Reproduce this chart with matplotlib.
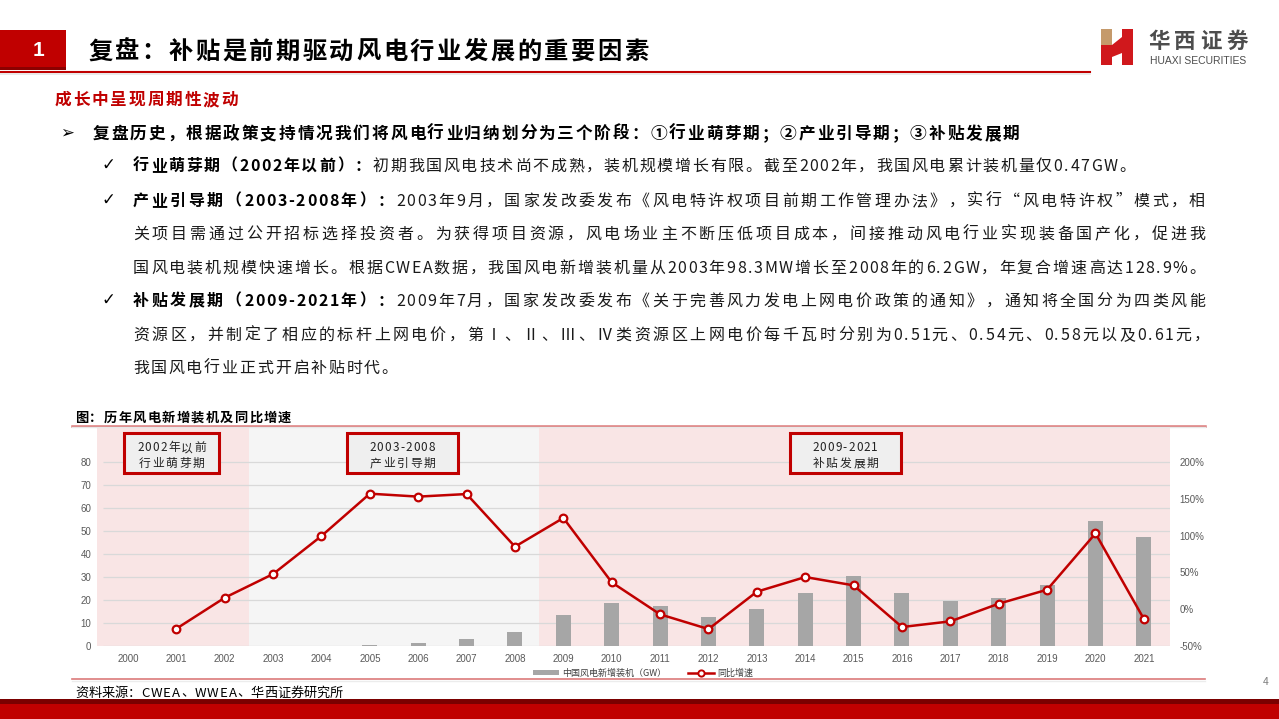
import matplotlib
matplotlib.use('Agg')
import matplotlib.pyplot as plt
from matplotlib.patches import Rectangle, Polygon, Patch
from matplotlib.lines import Line2D

plt.rcParams['font.family'] = ['Noto Sans CJK SC', 'DejaVu Sans']

W, H = 1279, 719
RED = '#c00000'

# data
years = ['2000', '2001', '2002', '2003', '2004', '2005', '2006', '2007', '2008', '2009', '2010',
         '2011', '2012', '2013', '2014', '2015', '2016', '2017', '2018', '2019', '2020', '2021']
new_gw = [0.08, 0.04, 0.07, 0.1, 0.2, 0.5, 1.2, 3.2, 6.1, 13.6, 18.8, 17.5, 12.8, 16.0, 23.0,
          30.6, 23.2, 19.5, 21.0, 26.7, 54.4, 47.5]
yoy = [None, -26.5, 15.6, 47.8, 99.5, 157.0, 153.0, 156.5, 85.0, 124.0, 36.5, -7.0, -27.0,
       23.8, 43.7, 32.4, -24.2, -16.5, 7.5, 26.5, 103.0, -13.3]
yticks_l = [0, 10, 20, 30, 40, 50, 60, 70, 80]
yticks_r = [-50, 0, 50, 100, 150, 200]

fig = plt.figure(figsize=(W / 100, H / 100), dpi=100)
renderer = fig.canvas.get_renderer()


def fy(y):
    return 1 - y / H


def rect(x0, y0, x1, y1, **kw):
    fig.add_artist(Rectangle((x0 / W, fy(y1)), (x1 - x0) / W, (y1 - y0) / H,
                             transform=fig.transFigure, **kw))


def hline(x0, x1, y, **kw):
    fig.add_artist(Line2D([x0 / W, x1 / W], [fy(y), fy(y)], transform=fig.transFigure, **kw))


def put(x, y, parts, size, gap=0.0, right=None, center=None, family=None):
    # draw text char by char so spacing / justification can follow the slide
    em = size * 100 / 72
    base = fy(y + 0.36 * em)
    items = []
    for s, weight, color in parts:
        for ch in s:
            t = fig.text(0, base, ch, fontsize=size, fontweight=weight, color=color, va='baseline')
            if family:
                t.set_fontfamily(family)
            if ord(ch) >= 0x2000:
                w, k = em, 1.0
                if ch in '（《“':
                    t.set_ha('right')
                elif ch in '，。、：；）》”':
                    t.set_ha('left')
                else:
                    t.set_ha('center')
            else:
                w, k = max(t.get_window_extent(renderer).width, 0.3 * em) + 0.08 * em, 0.15
            items.append((t, w, k))
    ws = sum(w for _, w, _ in items)
    ks = sum(k for _, _, k in items[:-1])
    if right is not None:
        gap = (right - x - ws) / ks
    if center is not None:
        x = center - (ws + gap * ks) / 2
    for t, w, k in items:
        off = {'left': 0, 'center': w / 2, 'right': w}[t.get_ha()]
        t.set_x((x + off) / W)
        x += w + gap * k


# header
rect(0, 30, 66, 70, color=RED, lw=0)
rect(0, 67, 66, 70, color='#8b0000', lw=0)
fig.text(38 / W, fy(50), '1', color='white', fontsize=15, fontweight='bold',
         ha='center', va='center', family='Liberation Sans')
hline(0, 1090, 72, color=RED, lw=1.5)
hline(0, 1090, 74, color='#e6e6e6', lw=1.2)
put(88, 50, [('复盘：补贴是前期驱动风电行业发展的重要因素', 'bold', 'black')], 17.5, gap=2.5)

# logo
rect(1101, 29, 1112, 45, color='#c59a6b', lw=0)
fig.add_artist(Polygon([(x / W, fy(y)) for x, y in
                        [(1101, 45), (1112, 45), (1122, 37), (1122, 29), (1133, 29), (1133, 65),
                         (1122, 65), (1122, 53), (1112, 57), (1112, 65), (1101, 65)]],
                       closed=True, transform=fig.transFigure, color='#d0181c', lw=0))
put(1148, 40, [('华西证券', 'bold', '#4d4d4d')], 15.5, gap=4.5)
fig.text(1150 / W, fy(61), 'HUAXI SECURITIES', fontsize=7.5, color='#4d4d4d',
         va='center', family='Liberation Sans')

# body text
put(55, 99, [('成长中呈现周期性波动', 'bold', RED)], 12, gap=1.8)
fig.text(67 / W, fy(133), '➢', fontsize=12, ha='center', va='center', family='DejaVu Sans')
put(93, 133, [('复盘历史，根据政策支持情况我们将风电行业归纳划分为三个阶段：①行业萌芽期；②产业引导期；③补贴发展期',
               'bold', 'black')], 12, gap=1.9)

TXT = '#1a1a1a'
for yy in (165, 200, 300):
    fig.text(108 / W, fy(yy), '✓', fontsize=12, ha='center', va='center', family='DejaVu Sans')
put(133, 165, [('行业萌芽期（2002年以前）：', 'bold', 'black'),
               ('初期我国风电技术尚不成熟，装机规模增长有限。截至2002年，我国风电累计装机量仅0.47GW。', 'normal', TXT)],
    11.5, gap=1.8)
put(133, 200, [('产业引导期（2003-2008年）：', 'bold', 'black'),
               ('2003年9月，国家发改委发布《风电特许权项目前期工作管理办法》，实行“风电特许权”模式，相', 'normal', TXT)],
    11.5, right=1205)
put(133, 233, [('关项目需通过公开招标选择投资者。为获得项目资源，风电场业主不断压低项目成本，间接推动风电行业实现装备国产化，促进我',
                'normal', TXT)], 11.5, right=1205)
put(133, 267, [('国风电装机规模快速增长。根据CWEA数据，我国风电新增装机量从2003年98.3MW增长至2008年的6.2GW，年复合增速高达128.9%。',
                'normal', TXT)], 11.5, right=1205)
put(133, 300, [('补贴发展期（2009-2021年）：', 'bold', 'black'),
               ('2009年7月，国家发改委发布《关于完善风力发电上网电价政策的通知》，通知将全国分为四类风能', 'normal', TXT)],
    11.5, right=1205)
put(133, 334, [('资源区，并制定了相应的标杆上网电价，第Ⅰ、Ⅱ、Ⅲ、Ⅳ类资源区上网电价每千瓦时分别为0.51元、0.54元、0.58元以及0.61元，',
                'normal', TXT)], 11.5, right=1210)
put(133, 367, [('我国风电行业正式开启补贴时代。', 'normal', TXT)], 11.5, gap=1.8)

# chart title
put(75, 417, [('图：历年风电新增装机及同比增速', 'bold', 'black')], 9.5, gap=1.3)

# chart
ax = fig.add_axes([97 / W, fy(646), (1170 - 97) / W, (646 - 428) / H])
xs = list(range(len(years)))
ax.set_xlim(-0.64, 21.54)
ax.set_ylim(0, 94.8)
ax.axvspan(-0.64, 2.5, color='#f9e5e5', lw=0, zorder=0)
ax.axvspan(2.5, 8.5, color='#f5f5f5', lw=0, zorder=0)
ax.axvspan(8.5, 21.54, color='#f9e5e5', lw=0, zorder=0)
ax.hlines(yticks_l, -0.52, 21.54, color='#d9d9d9', lw=0.9, zorder=1)
ax.bar(xs, new_gw, width=0.31, color='#a6a6a6', zorder=2)
ax.set_xticks(xs)
ax.set_xticklabels(years)
ax.set_yticks(yticks_l)
ax.tick_params(length=0, labelsize=7, labelcolor='#595959')
ax.tick_params(axis='x', pad=6)
ax.tick_params(axis='y', pad=4)
for s in ax.spines.values():
    s.set_visible(False)

ax2 = ax.twinx()
ax2.set_ylim(-50, -50 + 94.8 * 250 / 80)
ax2.set_yticks(yticks_r)
ax2.set_yticklabels([f'{v}%' for v in yticks_r])
ax2.tick_params(length=0, labelsize=7, labelcolor='#595959', pad=7)
for s in ax2.spines.values():
    s.set_visible(False)
ax2.plot(xs[1:], yoy[1:], color=RED, lw=1.8, marker='o', ms=5.5, mfc='white', mec=RED, mew=1.6,
         zorder=3)
for lbl in ax.get_xticklabels() + ax.get_yticklabels() + ax2.get_yticklabels():
    lbl.set_fontfamily('Liberation Sans')

# period boxes
for x0, x1, l1, l2 in [(124, 219, '2002年以前', '行业萌芽期'),
                       (347, 458, '2003-2008', '产业引导期'),
                       (790, 901, '2009-2021', '补贴发展期')]:
    rect(x0, 433, x1, 473, facecolor='#efefef', edgecolor=RED, lw=2.2)
    put(0, 447, [(l1, 'normal', '#222222')], 8.5, gap=1.2, center=(x0 + x1) / 2)
    put(0, 463, [(l2, 'normal', '#222222')], 8.5, gap=1.8, center=(x0 + x1) / 2)

hline(72, 1205, 425.5, color='#dc7a7a', lw=1.8)
hline(72, 1205, 427.5, color='#e8e8e8', lw=1)

# legend
handles = [Patch(facecolor='#a6a6a6', edgecolor='none'),
           Line2D([], [], color=RED, lw=1.8, marker='o', ms=4.5, mfc='white', mec=RED, mew=1.4)]
fig.legend(handles, ['中国风电新增装机（GW）', '同比增速'], loc='center', ncol=2,
           bbox_to_anchor=(643 / W, fy(673)), frameon=False, fontsize=6.5,
           handlelength=2.9, handleheight=0.5, handletextpad=0.35, columnspacing=2.4,
           borderpad=0, labelcolor='#404040')

hline(72, 1205, 679, color='#dc7a7a', lw=1.2)
hline(72, 1205, 681, color='#ececec', lw=1)
put(75, 692, [('资料来源：CWEA、WWEA、华西证券研究所', 'normal', 'black')], 9.5, gap=0.0)
fig.text(1266 / W, fy(682), '4', fontsize=7.5, color='#7f7f7f', ha='center', va='center')

# footer band
rect(0, 699, W, 703.5, color='#7a0000', lw=0)
rect(0, 703.5, W, H, color=RED, lw=0)

fig.savefig('out.png', dpi=100)
